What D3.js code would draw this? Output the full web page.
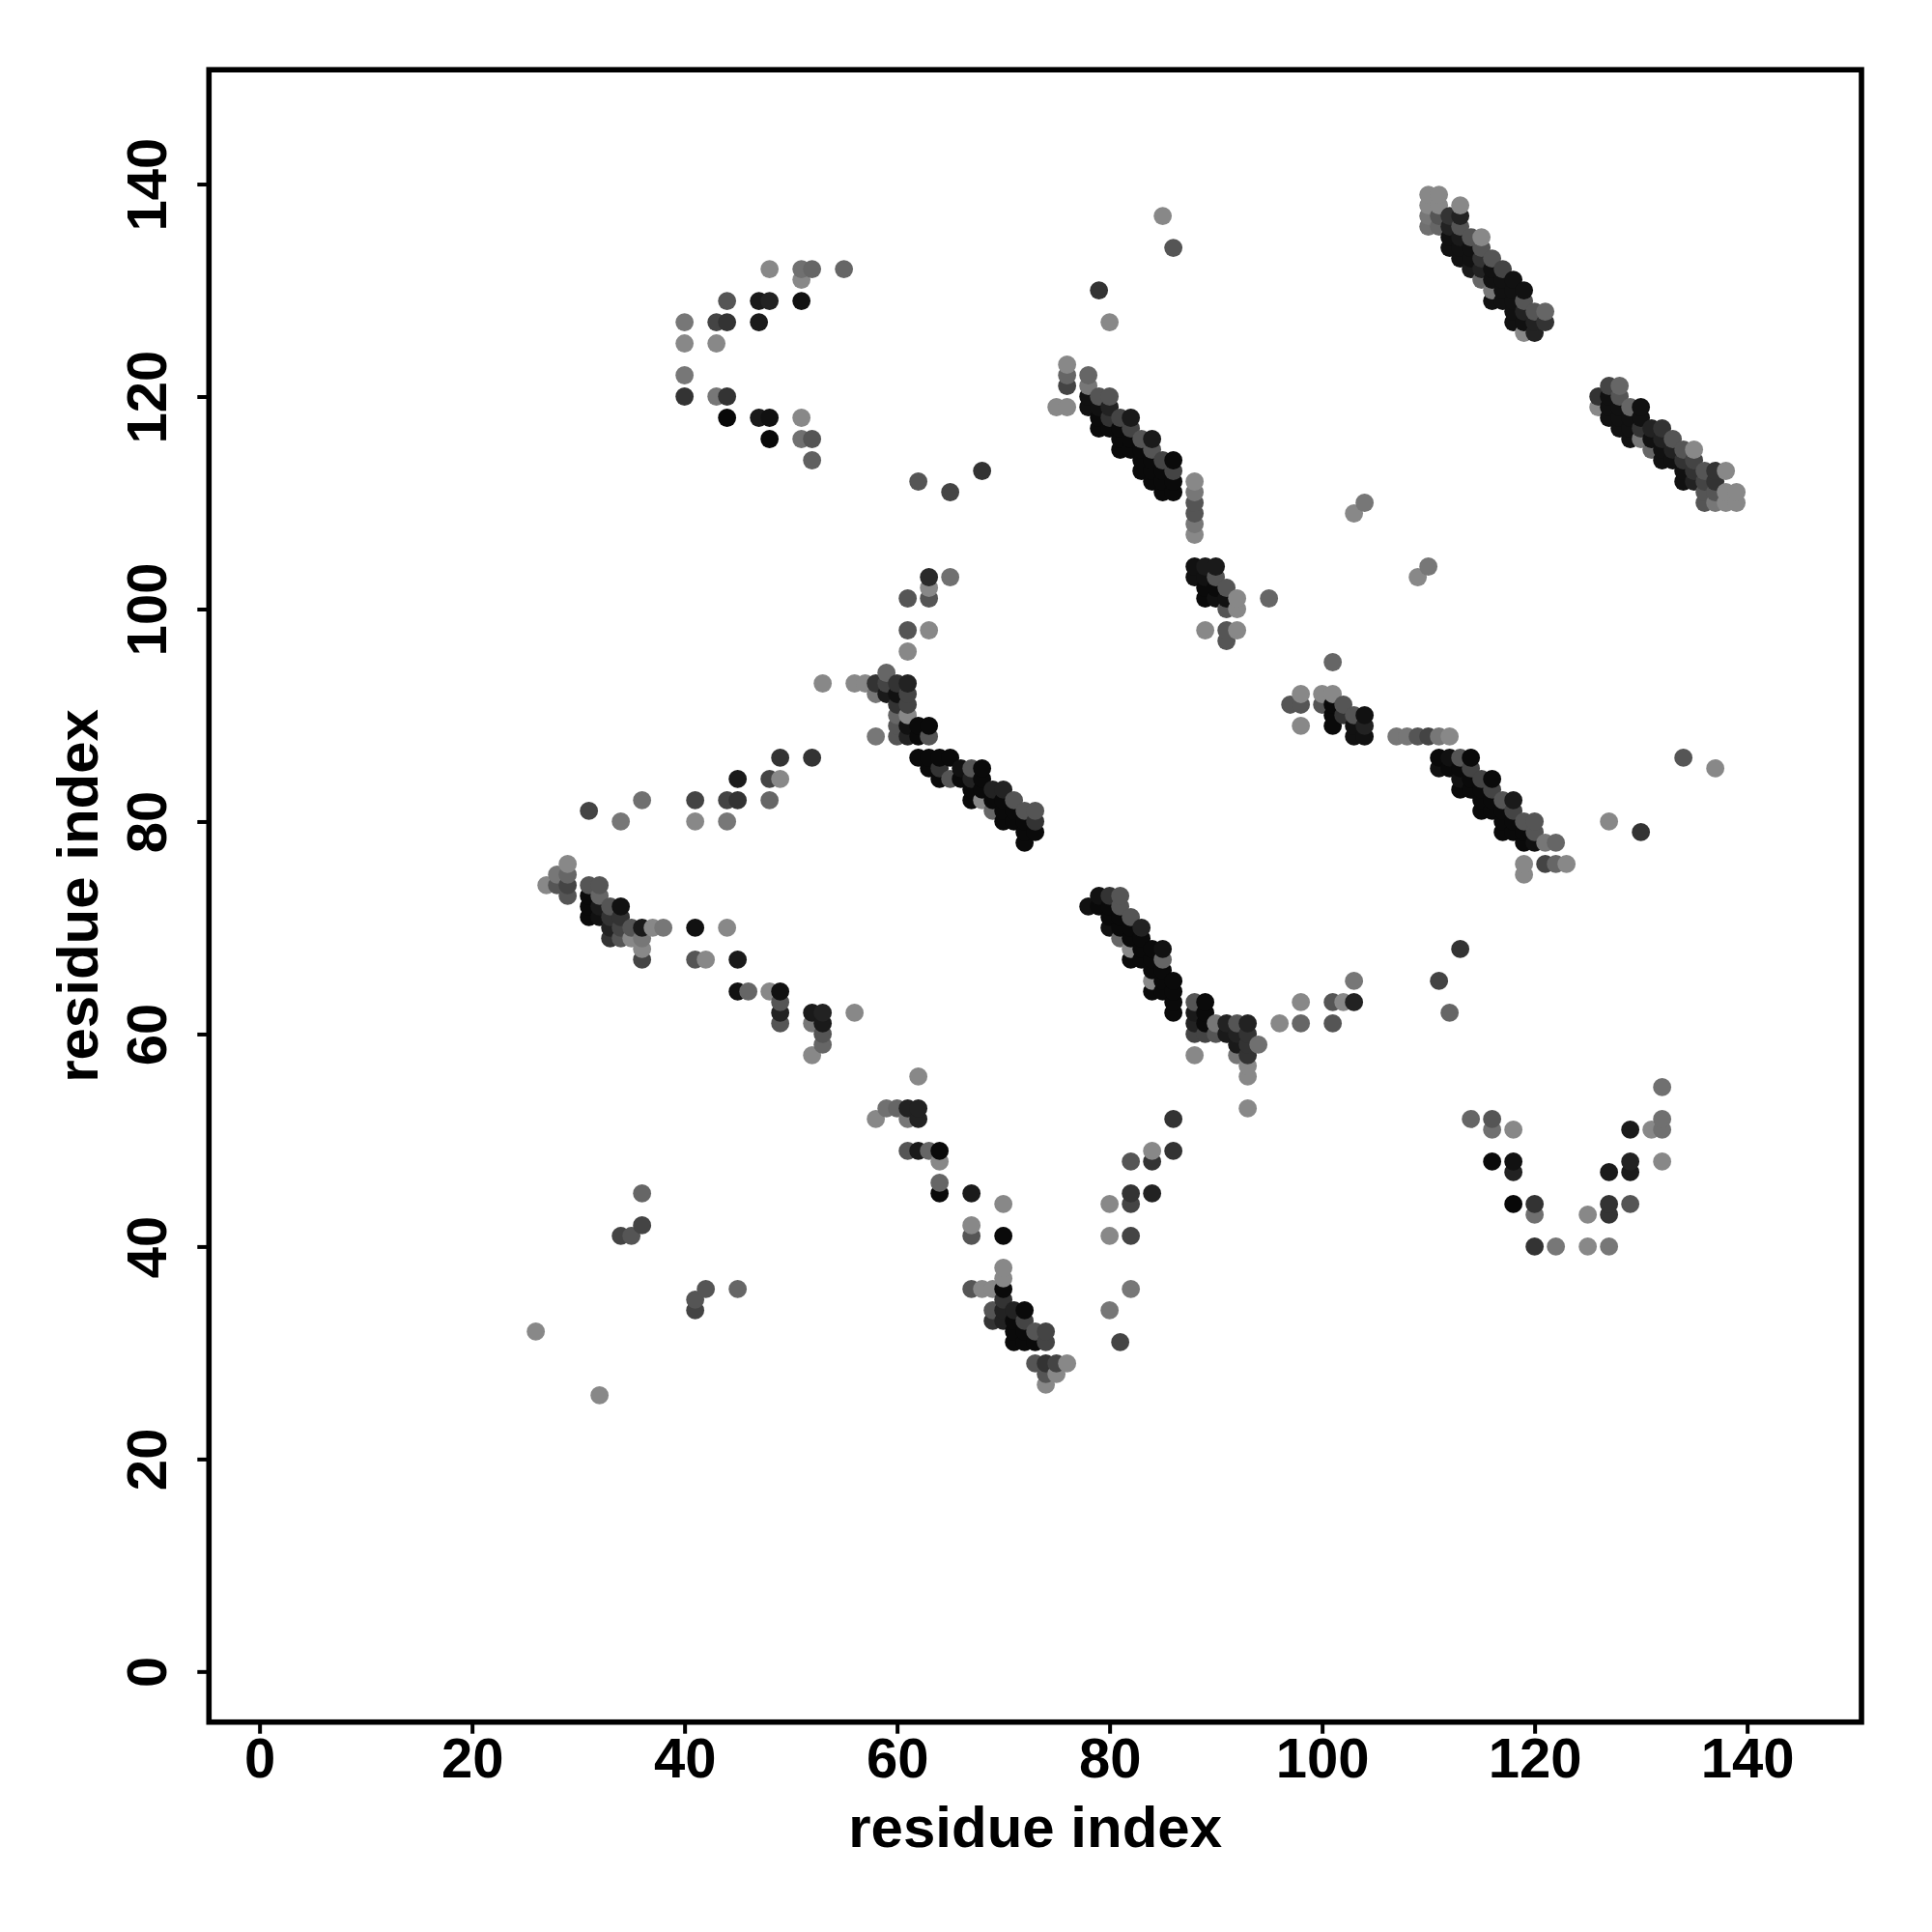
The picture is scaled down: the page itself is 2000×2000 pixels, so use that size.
<!DOCTYPE html>
<html><head><meta charset="utf-8">
<script src="https://cdn.jsdelivr.net/npm/d3@7"></script>
<style>body{margin:0;background:#fff}</style>
</head><body>
<svg id="chart" width="2000" height="2000"></svg>
<script>
// ---- data: [residue i, residue j, grey level 0-255] ----
const residueRange = [1, 145];
const xTicks = [0, 20, 40, 60, 80, 100, 120, 140];
const yTicks = [0, 20, 40, 60, 80, 100, 120, 140];
const xLabel = "residue index";
const yLabel = "residue index";

const hairpinTop = [[48,132,136],[51,132,112],[52,132,102],[55,132,102],[51,131,136],
 [44,129,85],[47,129,26],[48,129,34],[51,129,17],
 [40,127,119],[43,127,68],[44,127,51],[47,127,26],
 [40,125,136],[43,125,136],[40,122,119],
 [40,120,51],[43,120,119],[44,120,51],
 [44,118,8],[47,118,26],[48,118,17],[51,118,136],
 [48,116,8],[51,116,112],[52,116,85],[52,114,96]];

const scatterUpper = [[62,112,85],[68,113,51],[65,111,68],[85,137,136],[86,134,85],[79,130,51],[80,127,136],
 [104,110,119],[103,109,136],[110,104,119],[109,103,136],[63,103,42],[65,103,112],[63,102,136],
 [61,101,85],[63,101,85],[61,98,85],[63,98,136],[61,96,136],[95,101,102],[101,95,102]];

const bandA = [[110,139,136],[111,139,136],[110,138,136],[111,138,136],[113,138,136],
 [110,137,119],[111,137,85],[112,137,51],[113,137,34],
 [110,136,112],[111,136,102],[112,136,34],[113,136,85],
 [112,135,17],[113,135,26],[114,135,85],[115,135,136],
 [112,134,17],[113,134,17],[114,134,17],[115,134,85],
 [113,133,17],[114,133,17],[115,133,51],[116,133,85],
 [114,132,26],[115,132,34],[116,132,17],[117,132,68],
 [115,131,102],[116,131,17],[117,131,17],[118,131,17],
 [116,130,119],[117,130,17],[118,130,17],[119,130,17],
 [116,129,17],[117,129,17],[118,129,17],[119,129,85],
 [118,128,17],[119,128,34],[120,128,85],[121,128,102],
 [118,127,17],[119,127,17],[120,127,34],[121,127,51],
 [119,126,136],[120,126,34]];

const bandB = [[127,121,68],[128,121,102],
 [126,120,51],[127,120,17],[128,120,85],
 [126,119,136],[127,119,17],[128,119,17],[129,119,102],[130,119,17],
 [127,118,17],[128,118,17],[129,118,17],[130,118,17],
 [128,117,17],[129,117,17],[130,117,51],[131,117,34],[132,117,51],
 [129,116,17],[130,116,119],[131,116,17],[132,116,34],[133,116,85],
 [131,115,102],[132,115,17],[133,115,34],[134,115,85],[135,115,136],
 [132,114,17],[133,114,17],[134,114,51],[135,114,68],
 [134,113,17],[135,113,51],[136,113,85],[137,113,51],[138,113,136],
 [134,112,17],[135,112,34],[136,112,68],[137,112,51],
 [136,111,85],[137,111,85],[138,111,136],[139,111,136],
 [136,110,85],[137,110,119],[138,110,136],[139,110,136]];

const bandC = [[76,123,136],[76,122,102],[76,121,68],[75,119,136],[76,119,136],
 [78,122,102],[78,121,119],[78,120,17],[78,119,17],
 [79,120,85],[80,120,85],[79,119,17],[80,119,34],[79,118,10],[79,117,10],[80,118,51],[80,117,10],
 [81,118,68],[82,118,26],[81,117,10],[82,117,68],[81,116,10],[82,116,10],[81,115,10],[82,115,10],
 [83,116,85],[84,116,26],[83,115,10],[84,115,85],
 [83,114,10],[84,114,10],[85,114,68],[86,114,10],
 [83,113,10],[84,113,10],[85,113,10],[86,113,68],
 [84,112,10],[85,112,10],[86,112,10],[85,111,10],[86,111,10],
 [88,112,136],[88,111,119],[88,110,85],[88,109,85],[88,108,119],[88,107,136]];

const bandD = [[88,104,17],[89,104,26],[90,104,26],[88,103,17],[89,103,17],[90,103,85],
 [89,102,10],[90,102,10],[91,102,85],[89,101,10],[90,101,17],[91,101,17],[92,101,136],
 [91,100,85],[92,100,136],[89,98,136],[91,98,85],[92,98,136],[91,97,85]];

const bandE = [[53,93,136],[56,93,136],[57,93,136],[58,93,51],[59,94,102],[59,93,68],[60,93,51],[61,93,34],
 [58,92,119],[59,92,26],[60,92,17],[61,92,68],
 [60,91,51],[61,91,68],[60,90,102],[61,90,136],
 [58,88,119],[60,89,85],[60,88,85],[61,89,17],[61,88,34],[62,89,10],[63,89,10],[62,88,10],[63,88,85],
 [62,86,10],[63,86,10],[64,86,10],[65,86,10],
 [63,85,10],[64,85,51],[65,84,85],[64,84,10],
 [66,85,17],[66,84,10],[67,85,85],[68,85,10],[68,84,10],
 [67,84,34],[67,83,10],[67,82,10],[68,83,10],[68,82,136],
 [69,83,34],[69,82,10],[69,81,102],[70,83,34],[70,82,10],[70,81,10],[70,80,10],
 [71,82,85],[71,81,10],[71,80,10],[72,81,85],[72,80,10],[72,79,10],[72,78,10],
 [73,81,85],[73,80,51],[73,79,10]];

const scatterMidLeft = [[49,86,51],[52,86,51],[45,84,26],[48,84,68],[49,84,136],[41,82,68],[44,82,68],
 [45,82,51],[48,82,102],[36,82,112],[31,81,68],[34,80,119],[41,80,136],[44,80,119],
 [41,70,17],[44,70,136],[41,67,85],[42,67,136],[45,67,26],[45,64,17],[46,64,102],[48,64,136],
 [49,64,17],[49,63,85],[49,62,34],[49,61,85],[52,62,26],[53,62,34],[52,61,119],[53,61,26],
 [53,60,85],[53,59,102],[52,58,136],[56,62,136]];

const bandH = [[27,74,136],[28,75,119],[28,74,85],[29,76,136],[29,75,102],[29,74,68],[29,73,85],
 [31,74,85],[32,74,85],[31,73,10],[32,73,102],
 [31,72,10],[32,72,26],[33,72,85],[34,72,17],
 [31,71,10],[32,71,17],[33,71,51],[34,71,51],
 [33,70,34],[34,70,68],[35,70,85],[36,70,26],[37,70,136],[38,70,119],
 [33,69,51],[34,69,85],[35,69,136],[36,69,119],[36,68,136],[36,67,68]];

const bandF = [[97,91,85],[98,92,136],[98,91,85],[98,89,136],
 [100,92,136],[101,92,136],[100,91,85],[101,91,10],[102,91,85],
 [101,90,10],[102,90,51],[103,90,85],[104,90,17],
 [101,89,10],[103,89,17],[104,89,34],[103,88,17],[104,88,17]];

const bandG = [[107,88,119],[108,88,119],[109,88,85],[110,88,68],[111,88,119],[112,88,136],
 [111,86,10],[112,86,17],[113,86,85],[114,86,10],
 [111,85,17],[112,85,10],[113,85,10],[114,85,68],
 [113,84,17],[114,84,10],[115,84,68],[116,84,10],
 [113,83,10],[114,83,10],[115,83,10],[116,83,68],
 [115,82,10],[116,82,10],[117,82,85],[118,82,26],
 [115,81,10],[116,81,10],[117,81,10],[118,81,68],
 [117,80,10],[118,80,10],[119,80,85],[120,80,85],
 [117,79,10],[118,79,10],[119,79,10],[120,79,85],
 [119,78,10],[120,78,17],[121,78,119],[122,78,102],
 [119,76,136],[119,75,136],[121,76,68],[122,76,102],[123,76,136]];

const scatterRight = [[113,68,51],[111,65,68],[112,62,102],[103,65,119],[103,63,34],[102,63,136],
 [101,63,85],[98,63,136],[96,61,136],[98,61,102],[101,61,85],[127,80,136],[130,79,51],
 [134,86,85],[137,85,136]];

const bandI = [[78,72,17],[79,73,17],[80,73,51],[81,73,85],
 [79,72,10],[80,72,10],[81,72,85],
 [80,71,10],[81,71,10],[82,71,85],
 [80,70,17],[81,70,10],[82,70,10],[83,70,34],
 [81,69,102],[82,69,10],[83,69,10],
 [82,68,136],[83,68,10],[84,68,10],[85,68,17],
 [82,67,10],[83,67,10],[84,67,10],[85,67,102],
 [84,66,10],[85,66,10],
 [84,65,136],[85,65,10],[86,65,10],
 [84,64,10],[85,64,10],[86,64,10],[86,63,10],[86,62,10],
 [88,63,85],[89,63,10],[88,62,26],[89,62,10],[88,61,34],[89,61,10],
 [88,60,68],[89,60,68],[90,61,119],[90,60,85],
 [91,61,34],[92,61,85],[93,61,34],
 [91,60,26],[92,60,34],[93,60,51],
 [92,59,26],[93,59,51],[94,59,112],
 [92,58,119],[93,58,51],[93,57,136],[93,56,136],[93,53,136],[88,58,136]];

const bandJ = [[62,56,136],[59,53,112],[60,53,102],[61,53,34],[62,53,34],
 [58,52,136],[61,52,119],[62,52,34],
 [61,49,85],[62,49,26],[63,49,102],[64,49,10],[64,48,136],
 [64,46,102],[64,45,10],[67,45,26],[70,44,136],[67,42,136],[67,41,85],[70,41,10],
 [70,38,136],[70,37,136],[70,36,10],[67,36,85],[68,36,136],[69,36,136],
 [70,35,51],[69,34,85],[70,34,34],[71,34,34],[72,34,10],[69,33,51],[70,33,34],[71,33,10],[72,33,68],
 [71,32,10],[72,32,10],[73,32,85],[74,32,68],[71,31,10],[72,31,10],[73,31,10],[74,31,68],
 [73,29,85],[74,29,51],[75,29,68],[76,29,136],[74,28,85],[75,28,136],[74,27,136]];

const scatterLow = [[36,45,102],[36,42,68],[35,41,85],[34,41,68],[42,36,85],[41,35,85],[41,34,68],
 [45,36,102],[26,32,136],[32,26,136],
 [80,44,136],[80,41,136],[82,41,68],[82,36,119],[80,34,119],[81,31,68],[86,52,51],[86,49,51],
 [84,49,136],[84,48,51],[82,48,85],[82,45,51],[82,44,68],[84,45,34]];

const lowerV = [[114,52,102],[116,52,85],[116,51,112],[118,51,136],[129,51,26],[131,51,136],[132,52,112],
 [132,51,112],[132,55,112],
 [116,48,10],[118,48,17],[118,47,34],[129,48,34],[129,47,26],[127,47,26],[132,48,136],
 [118,44,8],[120,44,51],[120,43,112],[127,44,51],[127,43,51],[129,44,85],[125,43,136],
 [120,40,51],[122,40,119],[125,40,136],[127,40,119]];

// ---- drawing ----
const allPoints = [].concat(hairpinTop, scatterUpper, bandA, bandB, bandC, bandD, bandE,
  scatterMidLeft, bandH, bandF, bandG, scatterRight, bandI, bandJ, scatterLow, lowerV)
  .map(d => ({i: d[0], j: d[1], g: d[2]}))
  .sort((a, b) => a.i - b.i || a.j - b.j);

const pad = (residueRange[1] - residueRange[0]) * 0.04;
const dom = [residueRange[0] - pad, residueRange[1] + pad];
const L = 216.3, R = 1927, T = 72.2, B = 1782.7;
const x = d3.scaleLinear().domain(dom).range([L, R]);
const y = d3.scaleLinear().domain(dom).range([B, T]);

const svg = d3.select("#chart");
const font = "'Liberation Sans', Arial, Helvetica, sans-serif";

svg.append("g").selectAll("circle").data(allPoints).enter().append("circle")
  .attr("cx", d => x(d.i)).attr("cy", d => y(d.j)).attr("r", 9.4)
  .attr("fill", d => d3.rgb(d.g, d.g, d.g).toString());

svg.append("rect").attr("x", L).attr("y", T).attr("width", R - L).attr("height", B - T)
  .attr("fill", "none").attr("stroke", "#000").attr("stroke-width", 5.6);

const xAxis = svg.append("g").attr("transform", `translate(0,${B})`)
  .call(d3.axisBottom(x).tickValues(xTicks).tickSize(12).tickPadding(0).tickSizeOuter(0));
xAxis.select(".domain").remove();
xAxis.selectAll(".tick line").attr("stroke-width", 4);
xAxis.selectAll(".tick text").attr("y", 57).attr("dy", 0)
  .attr("font-family", font).attr("font-weight", "bold").attr("font-size", 58).attr("fill", "#000");

const yAxis = svg.append("g").attr("transform", `translate(${L},0)`)
  .call(d3.axisLeft(y).tickValues(yTicks).tickSize(12).tickPadding(0).tickSizeOuter(0));
yAxis.select(".domain").remove();
yAxis.selectAll(".tick line").attr("stroke-width", 4);
yAxis.selectAll(".tick text")
  .attr("x", null).attr("dy", 0)
  .attr("transform", `translate(${172 - L},0) rotate(-90)`)
  .attr("text-anchor", "middle")
  .attr("font-family", font).attr("font-weight", "bold").attr("font-size", 58).attr("fill", "#000");

svg.append("text").attr("x", (L + R) / 2).attr("y", 1912).attr("text-anchor", "middle")
  .attr("font-family", font).attr("font-weight", "bold").attr("font-size", 60).text(xLabel);
svg.append("text").attr("transform", `translate(101,${(T + B) / 2}) rotate(-90)`)
  .attr("text-anchor", "middle")
  .attr("font-family", font).attr("font-weight", "bold").attr("font-size", 60).text(yLabel);
</script>
</body></html>
